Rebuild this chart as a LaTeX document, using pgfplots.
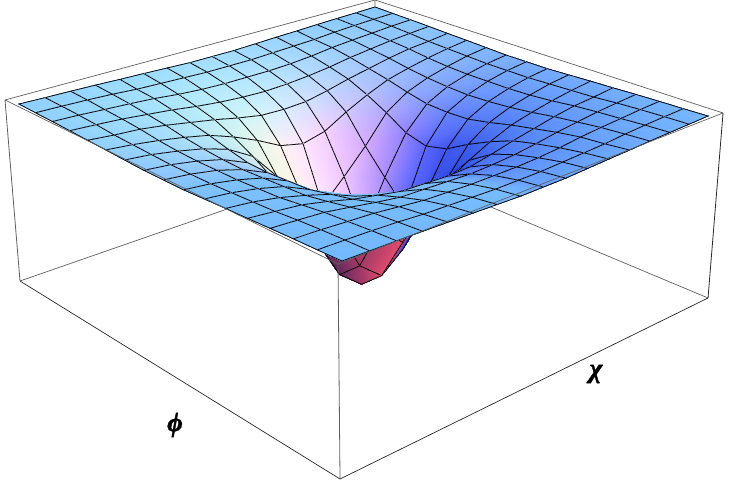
\documentclass[border=0pt]{standalone}
\usepackage{fontspec}
\newfontfamily\labfont{Liberation Serif}[BoldItalicFeatures={FakeBold=1.5}]
\usepackage{pgfplots}
\usepackage{pgfplotstable}
\pgfplotsset{compat=1.18}
\definecolor{boxc}{RGB}{95,95,95}
\definecolor{boxd}{RGB}{40,40,40}
\pgfplotstableread[row sep=\\]{
i j h\\
0 0 0\\0 1 .004\\0 2 .007\\0 3 .011\\0 4 .016\\0 5 .02\\0 6 .025\\0 7 .03\\0 8 .03\\0 9 .03\\0 10 .025\\0 11 .02\\0 12 .016\\0 13 .011\\0 14 .007\\0 15 .004\\0 16 0\\
1 0 .004\\1 1 .008\\1 2 .013\\1 3 .02\\1 4 .03\\1 5 .035\\1 6 .04\\1 7 .045\\1 8 .045\\1 9 .045\\1 10 .04\\1 11 .035\\1 12 .03\\1 13 .02\\1 14 .013\\1 15 .008\\1 16 .004\\
2 0 .007\\2 1 .013\\2 2 .022\\2 3 .03\\2 4 .04\\2 5 .055\\2 6 .065\\2 7 .07\\2 8 .07\\2 9 .07\\2 10 .065\\2 11 .055\\2 12 .04\\2 13 .03\\2 14 .022\\2 15 .013\\2 16 .007\\
3 0 .011\\3 1 .02\\3 2 .03\\3 3 .045\\3 4 .06\\3 5 .08\\3 6 .095\\3 7 .105\\3 8 .11\\3 9 .105\\3 10 .095\\3 11 .08\\3 12 .06\\3 13 .045\\3 14 .03\\3 15 .02\\3 16 .011\\
4 0 .016\\4 1 .03\\4 2 .04\\4 3 .06\\4 4 .085\\4 5 .11\\4 6 .14\\4 7 .165\\4 8 .17\\4 9 .165\\4 10 .14\\4 11 .11\\4 12 .085\\4 13 .06\\4 14 .04\\4 15 .03\\4 16 .016\\
5 0 .02\\5 1 .035\\5 2 .055\\5 3 .08\\5 4 .11\\5 5 .16\\5 6 .22\\5 7 .29\\5 8 .32\\5 9 .29\\5 10 .22\\5 11 .16\\5 12 .11\\5 13 .08\\5 14 .055\\5 15 .035\\5 16 .02\\
6 0 .025\\6 1 .04\\6 2 .065\\6 3 .095\\6 4 .14\\6 5 .22\\6 6 .37\\6 7 .5\\6 8 .62\\6 9 .5\\6 10 .37\\6 11 .22\\6 12 .14\\6 13 .095\\6 14 .065\\6 15 .04\\6 16 .025\\
7 0 .03\\7 1 .045\\7 2 .07\\7 3 .105\\7 4 .165\\7 5 .29\\7 6 .5\\7 7 .75\\7 8 .85\\7 9 .75\\7 10 .5\\7 11 .29\\7 12 .165\\7 13 .105\\7 14 .07\\7 15 .045\\7 16 .03\\
8 0 .03\\8 1 .045\\8 2 .07\\8 3 .11\\8 4 .17\\8 5 .32\\8 6 .62\\8 7 .85\\8 8 .95\\8 9 .85\\8 10 .62\\8 11 .32\\8 12 .17\\8 13 .11\\8 14 .07\\8 15 .045\\8 16 .03\\
9 0 .03\\9 1 .045\\9 2 .07\\9 3 .105\\9 4 .165\\9 5 .29\\9 6 .5\\9 7 .75\\9 8 .85\\9 9 .75\\9 10 .5\\9 11 .29\\9 12 .165\\9 13 .105\\9 14 .07\\9 15 .045\\9 16 .03\\
10 0 .025\\10 1 .04\\10 2 .065\\10 3 .095\\10 4 .14\\10 5 .22\\10 6 .37\\10 7 .5\\10 8 .62\\10 9 .5\\10 10 .42\\10 11 .25\\10 12 .16\\10 13 .1\\10 14 .065\\10 15 .04\\10 16 .025\\
11 0 .02\\11 1 .035\\11 2 .055\\11 3 .08\\11 4 .11\\11 5 .16\\11 6 .22\\11 7 .29\\11 8 .32\\11 9 .29\\11 10 .25\\11 11 .19\\11 12 .135\\11 13 .095\\11 14 .06\\11 15 .035\\11 16 .02\\
12 0 .016\\12 1 .03\\12 2 .04\\12 3 .06\\12 4 .085\\12 5 .11\\12 6 .14\\12 7 .165\\12 8 .17\\12 9 .165\\12 10 .16\\12 11 .135\\12 12 .11\\12 13 .075\\12 14 .045\\12 15 .03\\12 16 .016\\
13 0 .011\\13 1 .02\\13 2 .03\\13 3 .045\\13 4 .06\\13 5 .08\\13 6 .095\\13 7 .105\\13 8 .11\\13 9 .105\\13 10 .1\\13 11 .095\\13 12 .075\\13 13 .052\\13 14 .03\\13 15 .02\\13 16 .011\\
14 0 .007\\14 1 .013\\14 2 .022\\14 3 .03\\14 4 .04\\14 5 .055\\14 6 .065\\14 7 .07\\14 8 .07\\14 9 .07\\14 10 .065\\14 11 .06\\14 12 .045\\14 13 .03\\14 14 .022\\14 15 .013\\14 16 .007\\
15 0 .004\\15 1 .008\\15 2 .013\\15 3 .02\\15 4 .03\\15 5 .035\\15 6 .04\\15 7 .045\\15 8 .045\\15 9 .045\\15 10 .04\\15 11 .035\\15 12 .03\\15 13 .02\\15 14 .013\\15 15 .008\\15 16 .004\\
16 0 0\\16 1 .004\\16 2 .007\\16 3 .011\\16 4 .016\\16 5 .02\\16 6 .025\\16 7 .03\\16 8 .03\\16 9 .03\\16 10 .025\\16 11 .02\\16 12 .016\\16 13 .011\\16 14 .007\\16 15 .004\\16 16 0\\
}\surfdata
\tikzset{declare function={
    Q(\u,\v)=1-0.15454*\u-0.16371*\v;
    Tx(\u,\v)=(375-358.94*\u+217.09*\v)/Q(\u,\v);
    Ty(\u,\v)=(7+80.93*\u+90.01*\v)/Q(\u,\v);
    Dx(\u,\v)=-1+16*\u-13*\v-2*\u*\v;
    Dy(\u,\v)=157+24*\u+28*\v+2*\u*\v;
    SX(\i,\j,\h)=Tx(\i/16,\j/16)+\h*Dx(\i/16,\j/16);
    SY(\i,\j,\h)=Ty(\i/16,\j/16)+\h*Dy(\i/16,\j/16);
    ca(\a,\b)=\a/sqrt(\a*\a+\b*\b+0.01);
    sb(\a,\b)=\b/sqrt(\a*\a+\b*\b+0.01);
    sw(\h)=min(1,((\h+0.0001)/0.3)^0.7);
    isred(\a,\b)=and(and(\a>-0.5,\b>-0.5),and(\a<2.5,\b<2.5));
    isfront(\a,\b)=and(\a>0.5,\b>0.5);
    tr(\a,\b)=(abs(\b)+0.005)/(abs(\a)+abs(\b)+0.01);
    PR(\a,\b)=135+5*(\a+8)/16-15*(\b+8)/16-10*(\a+8)*(\b+8)/256;
    PG(\a,\b)=200+5*(\a+8)/16-15*(\b+8)/16-5*(\a+8)*(\b+8)/256;
    WR(\a,\b)=max(0,min(255,160+21*ca(\a,\b)-99*sb(\a,\b)-70*max(0,min(sb(\a,\b)+0.7,0.7))*max(0,-ca(\a,\b))));
    WG(\a,\b)=max(0,min(255,155+53*ca(\a,\b)-75*sb(\a,\b)));
    WB(\a,\b,\h)=255-30*sw(\h)^2*max(0,-2*ca(\a,\b)*sb(\a,\b));
    BG(\a,\b,\h)=80*sw(\h)*(1-sw(\h))*max(0,-sb(\a,\b));
    CR(\a,\b,\h)=ifthenelse(isred(\a,\b),95+130*tr(\a,\b),ifthenelse(isfront(\a,\b),PR(\a,\b),PR(\a,\b)+sw(\h)*(WR(\a,\b)-PR(\a,\b))))/255;
    CG(\a,\b,\h)=ifthenelse(isred(\a,\b),40+35*tr(\a,\b),ifthenelse(isfront(\a,\b),PG(\a,\b),min(255,PG(\a,\b)+sw(\h)*(WG(\a,\b)-PG(\a,\b))+BG(\a,\b,\h))))/255;
    CB(\a,\b,\h)=ifthenelse(isred(\a,\b),95+15*tr(\a,\b),ifthenelse(isfront(\a,\b),255,WB(\a,\b,\h)))/255;
}}
\pgfplotstablecreatecol[create col/assign/.code={%
  \getthisrow{i}\ii \getthisrow{j}\jj \getthisrow{h}\hh
  \pgfmathsetmacro\aa{\ii-8}\pgfmathsetmacro\bb{\jj-8}%
  \pgfmathsetmacro\cR{CR(\aa,\bb,\hh)}%
  \pgfmathsetmacro\cG{CG(\aa,\bb,\hh)}%
  \pgfmathsetmacro\cB{CB(\aa,\bb,\hh)}%
  \edef\entry{rgb=\cR,\cG,\cB}%
  \pgfkeyslet{/pgfplots/table/create col/next content}\entry
}]{c}\surfdata
\begin{document}
\begin{tikzpicture}
\begin{axis}[
  scale only axis, width=729pt, height=481pt,
  xmin=0, xmax=729, ymin=0, ymax=481, y dir=reverse,
  view={0}{90}, hide axis, clip=false,
]
% back edges of the box
\addplot3[boxc, line width=0.7pt] coordinates {(20,281,0)(374,158,0)(708,298,0)};
\addplot3[boxc, line width=0.7pt] coordinates {(374,158,0)(375,0,0)};
\addplot3[boxc, line width=0.7pt] coordinates {(5,100,0)(375,0,0)(723,113,0)};
% surface
\addplot3[surf, shader=faceted interp, faceted color=black, line width=0.75pt, mesh/cols=17, z buffer=none,
  mesh/color input=explicit]
  table[meta=c,
    x expr={SX(\thisrow{i},\thisrow{j},\thisrow{h})},
    y expr={SY(\thisrow{i},\thisrow{j},\thisrow{h})},
    z expr=0] {\surfdata};
% front edges of the box
\addplot3[boxc, line width=0.7pt] coordinates {(5,100,0)(338,264,0)(723,113,0)};
\addplot3[boxc, line width=0.8pt] coordinates {(338,264,0)(340,479,0)};
\addplot3[boxc, line width=0.8pt] coordinates {(5,100,0)(20,281,0)};
\addplot3[boxd, line width=0.7pt] coordinates {(20,281,0)(340,479,0)(708,298,0)};
\addplot3[boxd, line width=0.8pt] coordinates {(708,298,0)(723,113,0)};
\node[font=\fontsize{27}{30}\labfont\bfseries\itshape] at (axis cs:175,425,0) {ϕ};
\node[font=\fontsize{27}{30}\labfont\bfseries\itshape] at (axis cs:596,374,0) {χ};
\end{axis}
\pgfresetboundingbox
\path[use as bounding box] (0,0) rectangle (729pt,481pt);
\end{tikzpicture}
\end{document}
